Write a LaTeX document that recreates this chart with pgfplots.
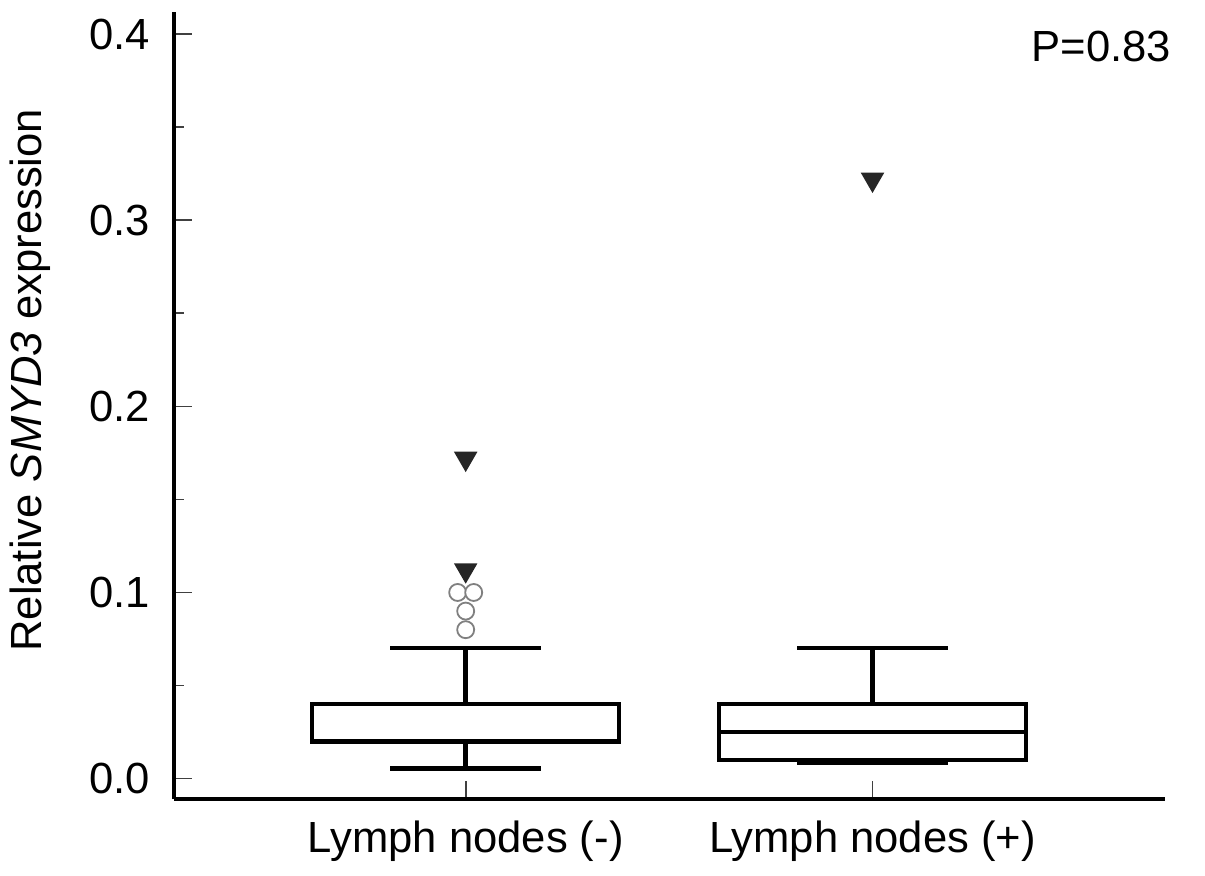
\documentclass[border=0pt]{standalone}
\usepackage{pgfplots}
\pgfplotsset{compat=1.18}
\usepackage{fontspec}
\setmainfont{Liberation Sans}
\newdimen\px \px=0.25pt
\begin{document}
\fontsize{10.9pt}{13pt}\selectfont
\begin{tikzpicture}
\path[use as bounding box] (-174\px,-76\px) rectangle (1031\px,799\px);
\begin{axis}[
  scale only axis, width=991\px, height=787\px,
  xmin=0.283, xmax=2.719, ymin=-0.011, ymax=0.412,
  axis x line*=bottom, axis y line*=left,
  axis line style={line width=1pt},
  clip=false,
  tick align=inside,
  xtick={1,2}, xticklabels={Lymph nodes (-), Lymph nodes (+)},
  ytick={0,0.1,0.2,0.3,0.4},
  minor ytick={0.05,0.15,0.25,0.35},
  major tick length=18\px, minor tick length=10\px,
  tick style={line width=0.45pt, color=black!75},
  /pgf/number format/assume math mode=true,
  yticklabel style={/pgf/number format/.cd, fixed, fixed zerofill, precision=1, /tikz/.cd, anchor=east, inner sep=0pt, xshift=-23\px},
  xticklabel style={anchor=base, inner sep=0pt, yshift=-53\px},
  ylabel={Relative \textit{SMYD3} expression},
  ylabel style={at={(axis description cs:-0.1342,0.532)}, anchor=base, inner sep=0pt},
  boxline/.style={black, solid, no markers, line width=1.1pt, line join=miter},
]
% Lymph nodes (-)
\addplot[boxline] coordinates {(0.6225,0.02) (1.3775,0.02) (1.3775,0.04) (0.6225,0.04)} --cycle;
\addplot[boxline] coordinates {(1,0.04) (1,0.07)};
\addplot[boxline] coordinates {(0.8145,0.07) (1.1855,0.07)};
\addplot[boxline] coordinates {(1,0.02) (1,0.0055)};
\addplot[boxline] coordinates {(0.8145,0.0055) (1.1855,0.0055)};
% Lymph nodes (+)
\addplot[boxline] coordinates {(1.6225,0.01) (2.3775,0.01) (2.3775,0.04) (1.6225,0.04)} --cycle;
\addplot[boxline] coordinates {(1.6225,0.025) (2.3775,0.025)};
\addplot[boxline] coordinates {(2,0.04) (2,0.07)};
\addplot[boxline] coordinates {(1.8145,0.07) (2.1855,0.07)};
\addplot[boxline] coordinates {(2,0.01) (2,0.0085)};
\addplot[boxline] coordinates {(1.8145,0.0085) (2.1855,0.0085)};
% outliers
\addplot[only marks, mark=*, mark size=8.5\px,
  mark options={draw=black!50, fill=white, line width=0.45pt}]
  coordinates {(0.9803,0.10) (1.0197,0.10) (1,0.09) (1,0.08)};
\addplot[only marks, mark=triangle*, mark size=12\px,
  mark options={rotate=180, draw=black!85, fill=black!85}]
  coordinates {(1,0.172) (1,0.112) (2,0.322)};
\node[anchor=north east, inner sep=0pt] at (rel axis cs:1.0071,0.977) {P=0.83};
\end{axis}
\end{tikzpicture}
\end{document}
